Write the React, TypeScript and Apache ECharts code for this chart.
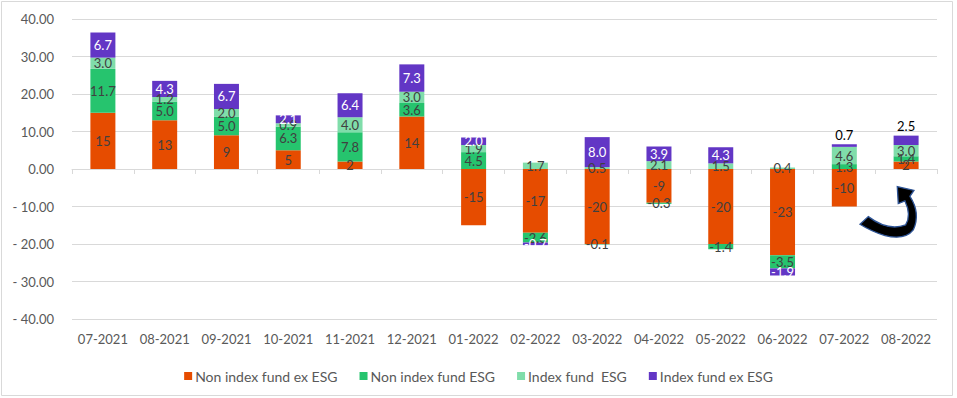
import React, { useEffect, useRef } from "react";
import * as echarts from "echarts";

const categories = ["07-2021", "08-2021", "09-2021", "10-2021", "11-2021", "12-2021", "01-2022", "02-2022", "03-2022", "04-2022", "05-2022", "06-2022", "07-2022", "08-2022"];
const nonIndexExEsg = [15, 13, 9, 5, 2, 14, -15, -17, -20, -9, -20, -23, -10, 2];
const nonIndexEsg = [11.7, 5.0, 5.0, 6.3, 7.8, 3.6, 4.5, -2.6, -0.1, -0.3, -1.4, -3.5, 1.3, 1.4];
const indexEsg = [3.0, 1.2, 2.0, 0.9, 4.0, 3.0, 1.9, 1.7, 0.5, 2.1, 1.5, 0.4, 4.6, 3.0];
const indexExEsg = [6.7, 4.3, 6.7, 2.1, 6.4, 7.3, 2.0, -0.7, 8.0, 3.9, 4.3, -1.9, 0.7, 2.5];
const seriesNames = ["Non index fund ex ESG", "Non index fund ESG", "Index fund  ESG", "Index fund ex ESG"];
const outsideLabelIdx = [12, 13];

const FONT = "Lato";
const colors = ["#E64C00", "#26C46E", "#80DDAA", "#6236C5"];

const arrowPath =
  "M45 148 L70 125 Q130 170 182 150 Q200 120 180 78 L160 86 L157 35 L207 46 L195 64 Q228 115 205 165 Q180 197 120 182 Q80 170 45 148 Z";

export default function App() {
  const ref = useRef<HTMLDivElement>(null);
  useEffect(() => {
    document.body.style.margin = "0";
    try {
      echarts.graphic.registerShape("arrowShape", echarts.graphic.extendPath(arrowPath, {}));
    } catch (e) {}
    const chart = echarts.init(ref.current!, null, { renderer: "svg" });
    const labelBase = {
      show: true,
      position: "inside",
      fontFamily: FONT,
      fontSize: 13,
      color: "#404040",
    };
    const mk = (name: string, data: any[], idx: number, fmt: (v: number) => string, labelColor?: string) => ({
      name,
      type: "bar",
      stack: "total",
      barWidth: 25,
      xAxisIndex: 0,
      itemStyle: { color: colors[idx] },
      label: { ...labelBase, color: labelColor || "#404040", formatter: (p: any) => fmt(p.value) },
      data,
    });
    const purpleData = indexExEsg.map((v, i) =>
      outsideLabelIdx.includes(i) ? { value: v, label: { position: "top", color: "#000000", distance: 3 } } : v
    );
    chart.setOption({
      animation: false,
      backgroundColor: "#ffffff",
      textStyle: { fontFamily: FONT },
      grid: { left: 72, right: 20, top: 19, bottom: 79 },
      legend: {
        data: seriesNames,
        top: 364,
        left: "center",
        itemWidth: 8,
        itemHeight: 8,
        itemGap: 22,
        icon: "rect",
        textStyle: { fontFamily: FONT, fontSize: 14, color: "#595959", padding: [0, 0, 0, -2] },
      },
      xAxis: [
        {
          type: "category",
          data: categories,
          position: "bottom",
          axisLine: { show: false, onZero: false },
          axisTick: { show: false },
          axisLabel: { interval: 0, fontFamily: FONT, fontSize: 13, color: "#595959", margin: 13 },
        },
        {
          type: "category",
          data: categories,
          position: "bottom",
          axisLine: { show: true, onZero: true, lineStyle: { color: "#d9d9d9", width: 1 } },
          axisTick: { show: true, interval: 0, length: 5, lineStyle: { color: "#d9d9d9" } },
          axisLabel: { show: false, interval: 0 },
        },
      ],
      yAxis: {
        type: "value",
        min: -40,
        max: 40,
        interval: 10,
        axisLine: { show: false },
        axisTick: { show: false },
        splitLine: { lineStyle: { color: "#d9d9d9", width: 1 } },
        axisLabel: {
          fontFamily: FONT,
          fontSize: 13,
          color: "#595959",
          margin: 18,
          formatter: (v: number) => (v < 0 ? "- " + Math.abs(v).toFixed(2) : v.toFixed(2)),
        },
      },
      series: [
        mk(seriesNames[0], nonIndexExEsg, 0, (v) => String(Math.round(v))),
        mk(seriesNames[1], nonIndexEsg, 1, (v) => v.toFixed(1)),
        mk(seriesNames[2], indexEsg, 2, (v) => v.toFixed(1)),
        mk(seriesNames[3], purpleData, 3, (v) => v.toFixed(1), "#ffffff"),
      ],
      graphic: [
        {
          type: "rect",
          shape: { x: 1.5, y: 1.5, width: 951, height: 394 },
          style: { fill: "none", stroke: "#d9d9d9", lineWidth: 1 },
          silent: true,
        },
        {
          type: "arrowShape",
          x: 845,
          y: 175,
          scaleX: 1 / 3,
          scaleY: 1 / 3,
          style: { fill: "#000000", stroke: "#2F5597", lineWidth: 4 },
          silent: true,
          z: 100,
        },
      ],
    });
    return () => chart.dispose();
  }, []);
  return <div ref={ref} style={{ width: 957, height: 398 }} />;
}
